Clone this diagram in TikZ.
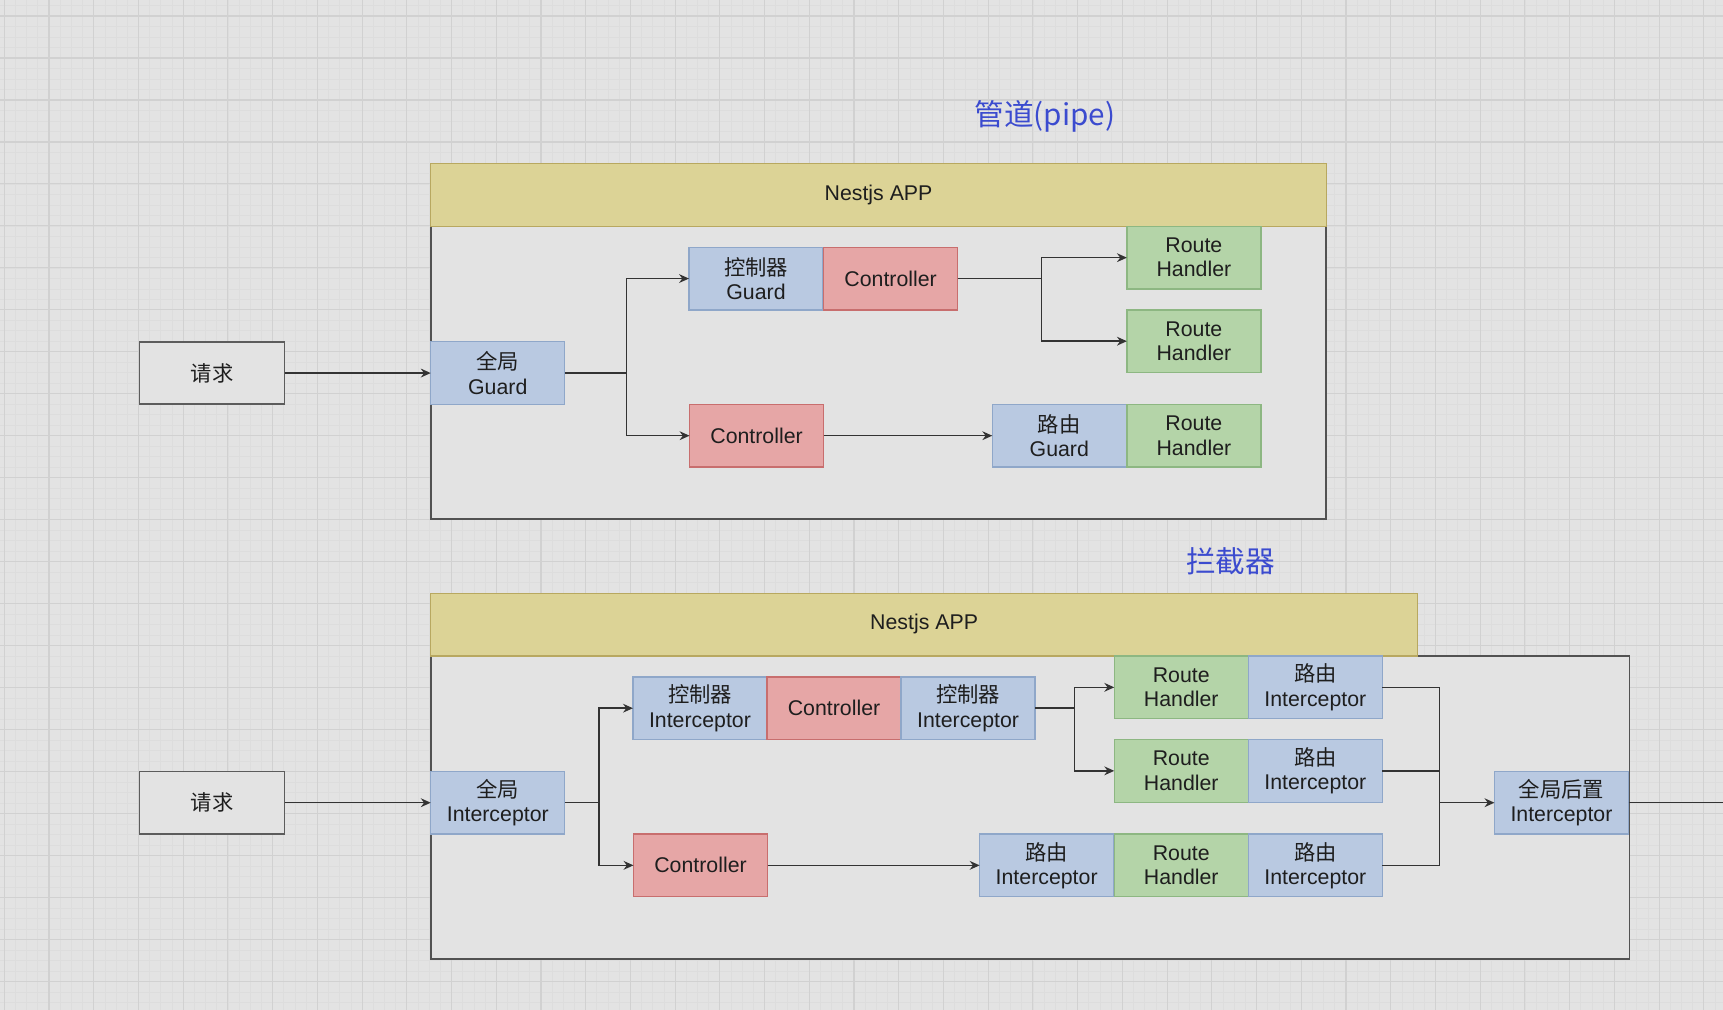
\documentclass[tikz,border=0pt]{standalone}
\usepackage{fontspec}
\setmainfont{Liberation Sans}
\newfontfamily\cjk{Noto Sans CJK SC}
\usetikzlibrary{arrows.meta}
\definecolor{bgc}{HTML}{E3E3E3}
\definecolor{minorc}{HTML}{DDDDDD}
\definecolor{majorc}{HTML}{D1D1D1}
\definecolor{hdrf}{HTML}{DCD396}
\definecolor{hdrd}{HTML}{B8A860}
\definecolor{bluef}{HTML}{B9C9E1}
\definecolor{blued}{HTML}{8FA7C9}
\definecolor{redf}{HTML}{E6A6A6}
\definecolor{redd}{HTML}{C86E6E}
\definecolor{grnf}{HTML}{B4D4A8}
\definecolor{grnd}{HTML}{8DB782}
\definecolor{txt}{HTML}{1E1E1E}
\definecolor{ttl}{HTML}{3B4BCF}
\definecolor{edge}{HTML}{333333}
\begin{document}
\begin{tikzpicture}[x=0.5pt,y=-0.5pt,
  box/.style={draw, minimum width=61pt, minimum height=28.5pt, inner sep=0pt, outer sep=0pt,
    align=center, font=\fontsize{9.7}{11}\selectfont, text=txt, line width=0.6pt},
  blu/.style={box, fill=bluef, draw=blued},
  red/.style={box, fill=redf, draw=redd},
  grn/.style={box, fill=grnf, draw=grnd},
  req/.style={box, fill=bgc, draw=edge!80, minimum width=66pt, line width=0.8pt},
  hdr/.style={draw=hdrd, fill=hdrf, line width=0.6pt},
  body/.style={draw=edge!85, fill=bgc, line width=0.8pt},
  arr/.style={draw=edge, line width=0.65pt, -{Stealth[length=4.5pt,width=4pt]}},
  ln/.style={draw=edge, line width=0.65pt},
  title/.style={text=ttl, font=\cjk\fontsize{13.5}{15}\selectfont, inner sep=0pt},
  hdrtext/.style={text=txt, font=\fontsize{9.7}{11}\selectfont, inner sep=0pt}
]
\useasboundingbox (0,0) rectangle (1568,919);
\fill[bgc] (0,0) rectangle (1568,919);
% grid
\foreach \m in {-4,...,150} \draw[minorc, line width=0.35pt] ({44.6+10.175*\m},0) -- ({44.6+10.175*\m},919);
\foreach \m in {-1,...,96} \draw[minorc, line width=0.35pt] (0,{14.6+9.55*\m}) -- (1568,{14.6+9.55*\m});
\foreach \m in {-1,...,37} \draw[majorc, line width=0.5pt] ({44.6+40.7*\m},0) -- ({44.6+40.7*\m},919);
\foreach \m in {0,...,24} \draw[majorc, line width=0.5pt] (0,{14.6+38.2*\m}) -- (1568,{14.6+38.2*\m});

% ---------- top: pipe ----------
\node[title] (t1) at (951,106) {管道(pipe)};
\draw[body] (392,206) rectangle (1207,472);
\draw[hdr] (392,149) rectangle (1207,206);
\node[hdrtext] (h1) at (799.5,177.5) {Nestjs APP};

\node[req] (req1) at (193,339.5) {{\cjk 请求}};
\node[blu] (g1) at (453,339.5) {{\cjk 全局}\\Guard};
\node[blu] (cg) at (688,253.5) {{\cjk 控制器}\\Guard};
\node[red] (c1) at (810.5,253.5) {Controller};
\node[grn] (rh1) at (1086.5,234.5) {Route\\Handler};
\node[grn] (rh2) at (1086.5,310.5) {Route\\Handler};
\node[red] (c2) at (688.5,396.5) {Controller};
\node[blu] (rg) at (964,396.5) {{\cjk 路由}\\Guard};
\node[grn] (rh3) at (1086.5,396.5) {Route\\Handler};

\coordinate (j1) at (570,339.5);
\coordinate (j2) at (948,253.5);
\draw[arr] (req1.east) -- (g1.west);
\draw[ln] (g1.east) -- (j1);
\draw[arr] (j1) |- (cg.west);
\draw[arr] (j1) |- (c2.west);
\draw[ln] (c1.east) -- (j2);
\draw[arr] (j2) |- (rh1.west);
\draw[arr] (j2) |- (rh2.west);
\draw[arr] (c2.east) -- (rg.west);

% ---------- bottom: interceptor ----------
\node[title] (t2) at (1120,511) {拦截器};
\draw[body] (392,597) rectangle (1483,873);
\draw[hdr] (392,540) rectangle (1290,597);
\node[hdrtext] (h2) at (841,568) {Nestjs APP};

\node[req] (req2) at (193,730.5) {{\cjk 请求}};
\node[blu] (gi) at (453,730.5) {{\cjk 全局}\\Interceptor};
\node[blu] (ci1) at (637,644.5) {{\cjk 控制器}\\Interceptor};
\node[red] (c3) at (759,644.5) {Controller};
\node[blu] (ci2) at (881,644.5) {{\cjk 控制器}\\Interceptor};
\node[grn] (rha) at (1075,625.5) {Route\\Handler};
\node[blu] (ria) at (1197,625.5) {{\cjk 路由}\\Interceptor};
\node[grn] (rhb) at (1075,701.5) {Route\\Handler};
\node[blu] (rib) at (1197,701.5) {{\cjk 路由}\\Interceptor};
\node[red] (c4) at (637.5,787.5) {Controller};
\node[blu] (ric1) at (952.5,787.5) {{\cjk 路由}\\Interceptor};
\node[grn] (rhc) at (1075,787.5) {Route\\Handler};
\node[blu] (ric2) at (1197,787.5) {{\cjk 路由}\\Interceptor};
\node[blu] (gpi) at (1421,730.5) {{\cjk 全局后置}\\Interceptor};

\coordinate (j3) at (545,730.5);
\coordinate (j4) at (978,644.5);
\coordinate (j5) at (1310,730.5);
\coordinate (outend) at (1568,730.5);
\draw[arr] (req2.east) -- (gi.west);
\draw[ln] (gi.east) -- (j3);
\draw[arr] (j3) |- (ci1.west);
\draw[arr] (j3) |- (c4.west);
\draw[ln] (ci2.east) -- (j4);
\draw[arr] (j4) |- (rha.west);
\draw[arr] (j4) |- (rhb.west);
\draw[arr] (c4.east) -- (ric1.west);
\draw[ln] (ria.east) -| (j5);
\draw[ln] (rib.east) -| (j5);
\draw[ln] (ric2.east) -| (j5);
\draw[arr] (j5) -- (gpi.west);
\draw[ln] (gpi.east) -- (outend);
\end{tikzpicture}
\end{document}
